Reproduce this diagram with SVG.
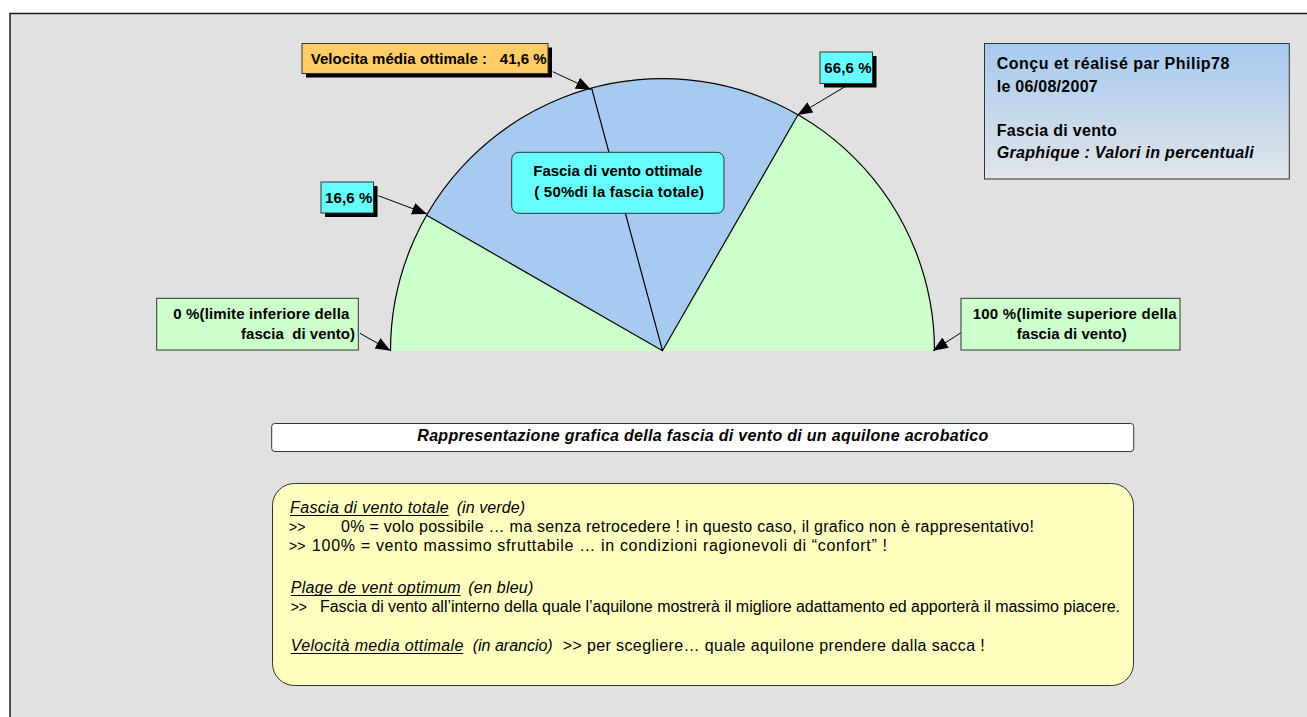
<svg xmlns="http://www.w3.org/2000/svg" width="1307" height="717" viewBox="0 0 1307 717">
<style>
.b{font-family:"Liberation Sans",Arial,sans-serif;font-weight:bold;font-size:15px;fill:#000}
.b16{font-family:"Liberation Sans",Arial,sans-serif;font-weight:bold;font-size:16px;fill:#000}
.bi{font-family:"Liberation Sans",Arial,sans-serif;font-weight:bold;font-style:italic;font-size:16px;fill:#000}
.r{font-family:"Liberation Sans",Arial,sans-serif;font-size:16px;fill:#000}
.gt{font-family:"Liberation Sans",Arial,sans-serif;font-size:14px;fill:#000}
.i{font-family:"Liberation Sans",Arial,sans-serif;font-style:italic;font-size:16px;fill:#000}
.ul{stroke:#000;stroke-width:1.2}
.box{stroke:#333;stroke-width:1}
.conn{stroke:#000;stroke-width:1;fill:none;marker-end:url(#ah)}
</style>
<defs>
<marker id="ah" markerUnits="userSpaceOnUse" markerWidth="15" markerHeight="12" refX="15" refY="6" orient="auto">
<path d="M0,0 L15,6 L0,12 z" fill="#000"/>
</marker>
<linearGradient id="grad" x1="0" y1="0" x2="0" y2="1">
<stop offset="0" stop-color="#A6CAF0"/>
<stop offset="1" stop-color="#E2E4E8"/>
</linearGradient>
</defs>
<rect x="0" y="0" width="1307" height="717" fill="#fff"/>
<rect x="10" y="13.5" width="1320" height="720" fill="#E1E1E1" stroke="#1a1a1a" stroke-width="1.5"/>

<g id="pie">
<path d="M662.5,350.7 L390.5,350.7 A272,272 0 0 1 426.6,215.2 Z" fill="#CCFFCC"/>
<path d="M662.5,350.7 L426.6,215.2 A272,272 0 0 1 798,114.8 Z" fill="#A6CAF0"/>
<path d="M662.5,350.7 L798,114.8 A272,272 0 0 1 934.5,350.7 Z" fill="#CCFFCC"/>
<path d="M390.5,350.7 A272,272 0 0 1 934.5,350.7" fill="none" stroke="#000" stroke-width="1.2"/>
<path d="M426.6,215.2 L662.5,350.7 L798,114.8 M662.5,350.7 L591.6,88.1" fill="none" stroke="#000" stroke-width="1.2"/>
</g>

<g id="connectors">
<line class="conn" x1="552.7" y1="71.7" x2="591" y2="89.5"/>
<line class="conn" x1="378.3" y1="195.7" x2="427" y2="214"/>
<line class="conn" x1="845" y1="86.7" x2="797.5" y2="115"/>
<line class="conn" x1="360" y1="333.3" x2="390.5" y2="350.7"/>
<line class="conn" x1="961" y1="332.7" x2="933" y2="350.7"/>
</g>

<g id="label-velocita">
<rect x="306" y="47.5" width="246" height="30" fill="#000"/>
<rect class="box" x="302" y="43.5" width="246" height="30" fill="#FFCC66"/>
<text class="b" x="310.7" y="63.5" textLength="236" lengthAdjust="spacing">Velocita média ottimale :&#160;&#160; 41,6 %</text>
</g>

<g id="label-16">
<rect x="325" y="186" width="52.5" height="31" fill="#000"/>
<rect class="box" x="321" y="182" width="52.5" height="31" fill="#66FFFF"/>
<text class="b" x="325" y="202.5" textLength="47.3" lengthAdjust="spacing">16,6 %</text>
</g>

<g id="label-66">
<rect x="824" y="56" width="52.5" height="31.5" fill="#000"/>
<rect class="box" x="820" y="52" width="52.5" height="31.5" fill="#66FFFF"/>
<text class="b" x="824.3" y="72.5" textLength="47.4" lengthAdjust="spacing">66,6 %</text>
</g>

<g id="label-optimal">
<rect class="box" x="511.7" y="152.3" width="212.3" height="61" rx="7" fill="#66FFFF"/>
<text class="b" x="533.3" y="176" textLength="169" lengthAdjust="spacing">Fascia di vento ottimale</text>
<text class="b" x="534.3" y="197.3" textLength="169.7" lengthAdjust="spacing">( 50%di la fascia totale)</text>
</g>

<g id="label-0">
<rect class="box" x="156.7" y="298.3" width="201.6" height="51.7" fill="#CCFFCC"/>
<text class="b" x="173.3" y="319" textLength="176" lengthAdjust="spacing">0 %(limite inferiore della</text>
<text class="b" x="241" y="339" textLength="114" lengthAdjust="spacing">fascia&#160; di vento)</text>
</g>

<g id="label-100">
<rect class="box" x="961" y="298.3" width="219" height="51.7" fill="#CCFFCC"/>
<text class="b" x="972.7" y="319" textLength="204" lengthAdjust="spacing">100 %(limite superiore della</text>
<text class="b" x="1016.7" y="339" textLength="110" lengthAdjust="spacing">fascia di vento)</text>
</g>

<g id="info">
<rect class="box" x="984.5" y="43.5" width="304.8" height="135.5" fill="url(#grad)"/>
<text class="b16" x="996.7" y="69" textLength="232.7" lengthAdjust="spacing">Conçu et réalisé par Philip78</text>
<text class="b16" x="996.7" y="91.5" textLength="101" lengthAdjust="spacing">le 06/08/2007</text>
<text class="b16" x="996.7" y="135.5" textLength="120" lengthAdjust="spacing">Fascia di vento</text>
<text class="bi" x="996.7" y="157.5" textLength="257" lengthAdjust="spacing">Graphique : Valori in percentuali</text>
</g>

<g id="title">
<rect class="box" x="271.7" y="423.5" width="862" height="28" rx="3" fill="#fff"/>
<text class="bi" x="417.3" y="441" textLength="571" lengthAdjust="spacing">Rappresentazione grafica della fascia di vento di un aquilone acrobatico</text>
</g>

<g id="legend">
<rect class="box" x="272.5" y="483.5" width="861" height="202" rx="22" fill="#FFFFC0"/>
<text class="i" x="290" y="513" textLength="158.7" lengthAdjust="spacing">Fascia di vento totale</text>
<line class="ul" x1="290" y1="515.5" x2="448.7" y2="515.5"/>
<text class="i" x="456.7" y="513" textLength="68.3" lengthAdjust="spacing">(in verde)</text>
<text class="gt" x="289" y="532">&gt;&gt;</text>
<text class="r" x="341" y="532" textLength="693" lengthAdjust="spacing">0% = volo possibile … ma senza retrocedere ! in questo caso, il grafico non è rappresentativo!</text>
<text class="gt" x="289" y="551">&gt;&gt;</text>
<text class="r" x="312" y="551" textLength="575" lengthAdjust="spacing">100% = vento massimo sfruttabile … in condizioni ragionevoli di “confort” !</text>
<text class="i" x="290.7" y="593" textLength="170" lengthAdjust="spacing">Plage de vent optimum</text>
<line class="ul" x1="290.7" y1="595.5" x2="460.7" y2="595.5"/>
<text class="i" x="468.3" y="593" textLength="65" lengthAdjust="spacing">(en bleu)</text>
<text class="gt" x="290.7" y="612">&gt;&gt;</text>
<text class="r" x="320" y="612" textLength="800" lengthAdjust="spacing">Fascia di vento all’interno della quale l’aquilone mostrerà il migliore adattamento ed apporterà il massimo piacere.</text>
<text class="i" x="290.7" y="651" textLength="172.6" lengthAdjust="spacing">Velocità media ottimale</text>
<line class="ul" x1="290.7" y1="653.5" x2="463.3" y2="653.5"/>
<text class="i" x="472.7" y="651" textLength="80" lengthAdjust="spacing">(in arancio)</text>
<text class="r" x="562.7" y="651" textLength="422" lengthAdjust="spacing">&gt;&gt; per scegliere… quale aquilone prendere dalla sacca !</text>
</g>
</svg>
